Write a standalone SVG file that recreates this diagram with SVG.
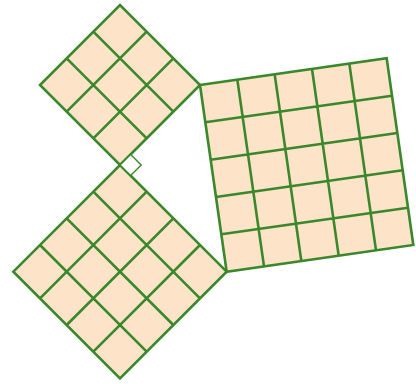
<svg xmlns="http://www.w3.org/2000/svg" width="416" height="384" viewBox="0 0 416 384">
<style>
.sq{fill:#fde4c8;stroke:#3a872c;stroke-width:2.6;stroke-linejoin:miter}
.g{stroke:#3a872c;stroke-width:2.6;fill:none;stroke-linecap:butt}
.ra{fill:#ffffff;stroke:#3a872c;stroke-width:1.4}
</style>
<rect width="416" height="384" fill="#ffffff"/>
<g id="square-a">
<polygon class="sq" points="120,165 200,85 120,5 40,85"/>
<path class="g" d="M93.33,138.33L173.33,58.33M66.67,111.67L146.67,31.67M146.67,138.33L66.67,58.33M173.33,111.67L93.33,31.67"/>
</g>
<g id="square-b">
<polygon class="sq" points="120,165 226.67,271.67 120,378.33 13.33,271.67"/>
<path class="g" d="M93.33,191.67L200,298.33M66.67,218.33L173.33,325M40,245L146.67,351.67M146.67,191.67L40,298.33M173.33,218.33L66.67,325M200,245L93.33,351.67"/>
</g>
<g id="square-c">
<polygon class="sq" points="200,85 386.67,58.33 413.33,245 226.67,271.67"/>
<path class="g" d="M237.33,79.67L264,266.33M274.67,74.33L301.33,261M312,69L338.67,255.67M349.33,63.67L376,250.33M205.33,122.33L392,95.67M210.67,159.67L397.33,133M216,197L402.67,170.33M221.33,234.33L408,207.67"/>
</g>
<g id="right-angle">
<polygon class="ra" points="120,165 130.6,154.4 141.2,165 130.6,175.6"/>
</g>
<g id="connectors"></g>
</svg>
